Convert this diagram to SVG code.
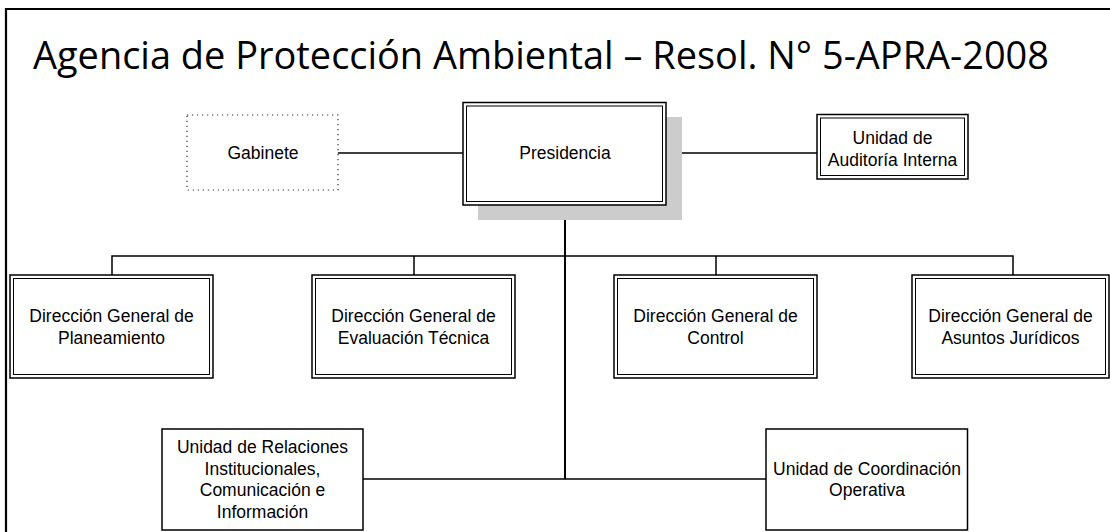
<svg xmlns="http://www.w3.org/2000/svg" width="1110" height="532" viewBox="0 0 1110 532">
<style>
.t{font-family:"Liberation Sans",Arial,sans-serif;font-size:17.5px;fill:#000;text-anchor:middle}
.o{fill:#fff;stroke:#000;stroke-width:1.5}
.i{fill:none;stroke:#000;stroke-width:1}
.c{fill:none;stroke:#000;stroke-width:1.5}
</style>
<rect width="1110" height="532" fill="#fff"/>
<path d="M6 532 V9 H1110" fill="none" stroke="#000" stroke-width="2.2"/>
<text x="33" y="69" font-family="'Open Sans','Noto Sans',sans-serif" font-size="39" textLength="1016" lengthAdjust="spacingAndGlyphs" fill="#000">Agencia de Protección Ambiental – Resol. N° 5-APRA-2008</text>
<g id="connectors">
<path class="c" d="M338 153 H463 M666 153 H817"/>
<path d="M565 205 V479" fill="none" stroke="#000" stroke-width="2"/>
<path class="c" d="M112 275 V256 H1013 V275 M414 256 V275 M716 256 V275"/>
<path class="c" d="M363 479 H766"/>
</g>
<g id="gabinete">
<rect x="187" y="115" width="151" height="75" fill="#fff" stroke="#333" stroke-width="1.2" stroke-dasharray="1.2 3.8"/>
<text class="t" x="263" y="159">Gabinete</text>
</g>
<g id="presidencia">
<rect x="478" y="117" width="204" height="103" fill="#ccc"/>
<rect class="o" x="463" y="102.5" width="203" height="102.5"/>
<rect class="i" x="466.5" y="106" width="196" height="95.5"/>
<text class="t" x="565" y="159">Presidencia</text>
</g>
<g id="auditoria">
<rect class="o" x="817" y="114.5" width="151" height="64.5"/>
<rect class="i" x="820.5" y="118" width="144" height="57.5"/>
<text class="t" x="892.5" y="144">Unidad de</text>
<text class="t" x="892.5" y="165.5">Auditoría Interna</text>
</g>
<g id="planeamiento">
<rect class="o" x="10" y="275" width="203" height="103"/>
<rect class="i" x="13.5" y="278.5" width="196" height="96"/>
<text class="t" x="111.5" y="322">Dirección General de</text>
<text class="t" x="111.5" y="343.5">Planeamiento</text>
</g>
<g id="evaluacion">
<rect class="o" x="312" y="275" width="203" height="103"/>
<rect class="i" x="315.5" y="278.5" width="196" height="96"/>
<text class="t" x="413.5" y="322">Dirección General de</text>
<text class="t" x="413.5" y="343.5">Evaluación Técnica</text>
</g>
<g id="control">
<rect class="o" x="614" y="275" width="203" height="103"/>
<rect class="i" x="617.5" y="278.5" width="196" height="96"/>
<text class="t" x="715.5" y="322">Dirección General de</text>
<text class="t" x="715.5" y="343.5">Control</text>
</g>
<g id="juridicos">
<rect class="o" x="912" y="275" width="197" height="103"/>
<rect class="i" x="915.5" y="278.5" width="190" height="96"/>
<text class="t" x="1010.5" y="322">Dirección General de</text>
<text class="t" x="1010.5" y="343.5">Asuntos Jurídicos</text>
</g>
<g id="relaciones">
<rect class="o" x="162" y="429" width="201" height="101"/>
<text class="t" x="262.5" y="453">Unidad de Relaciones</text>
<text class="t" x="262.5" y="474.5">Institucionales,</text>
<text class="t" x="262.5" y="496">Comunicación e</text>
<text class="t" x="262.5" y="517.5">Información</text>
</g>
<g id="coordinacion">
<rect class="o" x="766" y="429" width="201.5" height="101"/>
<text class="t" x="867" y="474.5">Unidad de Coordinación</text>
<text class="t" x="867" y="496">Operativa</text>
</g>
</svg>
